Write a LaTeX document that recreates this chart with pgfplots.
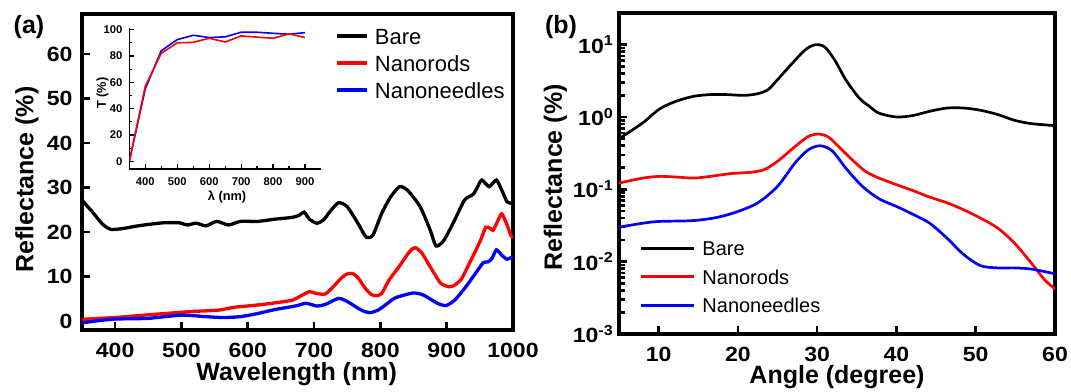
\documentclass[border=0pt]{standalone}
\usepackage{fontspec}
\setmainfont{Liberation Sans}
\usepackage{graphicx}
\usepackage{pgfplots}
\pgfplotsset{compat=1.18}
\newcommand{\tlab}[1]{\scalebox{1.12}[1]{#1}}
\definecolor{cred}{RGB}{255,0,0}
\definecolor{cblue}{RGB}{0,0,255}
\pgfplotsset{
  base/.style={
    scale only axis,
    axis line style={line width=1.6pt},
    xtick pos=lower, ytick pos=left, tick align=inside,
    major tick length=3.8pt,
    tick style={black, line width=1.3pt},
    /pgf/number format/assume math mode=true,
    /pgf/number format/1000 sep={},
    tick label style={font=\fontsize{10.3}{12}\selectfont\bfseries},
    xticklabel style={yshift=-2.8pt},
    every axis plot/.append style={line width=1.65pt},
  },
}
\begin{document}
\begin{tikzpicture}
\useasboundingbox (0pt,0pt) rectangle (535.5pt,195.5pt);
% ---------- panel (a)
\begin{axis}[base,
  at={(41pt,30.5pt)}, anchor=south west, width=215.5pt, height=158pt,
  xmin=350, xmax=1000, ymin=-2, ymax=69,
  xtick={400,500,...,1000}, ytick={0,10,...,60},
  xticklabel={\tlab{\pgfmathprintnumber{\tick}}},
  yticklabel={\tlab{\pgfmathprintnumber{\tick}}},
  yticklabel style={xshift=-1.2pt},
  xlabel={Wavelength (nm)}, ylabel={Reflectance (\%)},
  every axis x label/.style={at={(axis description cs:0.498,-0.14)}, anchor=center, font=\fontsize{12.5}{15}\selectfont\bfseries},
  every axis y label/.style={at={(axis description cs:-0.128,0.476)}, rotate=90, anchor=center, font=\fontsize{12.5}{15}\selectfont\bfseries},
  legend style={at={(0.587,0.844)}, anchor=west, draw=none, fill=none, inner sep=0pt,
    font=\fontsize{11}{13}\selectfont, row sep=0pt,
    nodes={inner sep=2.75pt, text height=8pt, text depth=0pt}},
  legend cell align=left,
  legend image code/.code={\draw[#1, line width=2pt] (0pt,0pt) -- (15pt,0pt);},
]
\addplot[black, smooth, tension=0.4] coordinates {
(350,27.2)(358,25.8)(366,24.5)(375,22.8)(383,21.5)(394,20.6)(412,20.8)(430,21.3)(444,21.6)(460,21.9)(475,22.1)(496,22.1)(509,21.6)(522,22.0)(537,21.4)(553,22.4)(571,21.6)(589,22.4)(615,22.4)(641,22.9)(667,23.3)(678,23.8)(685,24.5)(693,22.9)(704,22.0)(714,22.7)(725,24.8)(737,26.6)(750,25.7)(766,22.0)(779,18.8)(789,19.4)(802,24.2)(815,27.8)(829,30.2)(841,29.4)(860,25.7)(875,20.5)(884,16.9)(896,18.2)(912,22.7)(927,27.2)(940,28.5)(946,30.0)(953,31.7)(964,30.2)(975,31.7)(984,29.1)(991,26.8)(997,26.5)(1000,26.6)
};
\addlegendentry{Bare}
\addplot[cred, smooth, tension=0.4] coordinates {
(350,0.4)(375,0.6)(399,0.8)(425,1.1)(449,1.4)(475,1.7)(501,2.0)(520,2.2)(537,2.3)(558,2.5)(579,3.1)(600,3.4)(620,3.7)(641,4.1)(667,4.7)(683,5.9)(693,6.6)(704,6.2)(717,6.1)(730,7.9)(742,9.8)(750,10.6)(758,10.7)(766,9.8)(776,7.6)(786,6.0)(794,5.7)(802,6.2)(813,9.2)(828,12.2)(844,15.6)(852,16.5)(862,15.4)(878,11.5)(891,8.5)(904,7.7)(912,8.1)(922,9.4)(932,12.3)(943,15.6)(952,18.5)(959,21.1)(966,20.8)(970,20.4)(977,22.5)(983,24.1)(990,22.0)(997,19.2)(1000,18.8)
};
\addlegendentry{Nanorods}
\addplot[cblue, smooth, tension=0.4] coordinates {
(350,-0.4)(375,0.1)(399,0.45)(430,0.55)(449,0.6)(475,1.0)(501,1.35)(520,1.2)(537,1.0)(563,0.8)(589,1.0)(615,1.7)(641,2.6)(672,3.4)(688,4.0)(704,3.4)(717,3.75)(737,5.1)(750,4.4)(771,2.5)(784,1.9)(797,2.5)(810,3.9)(823,5.25)(849,6.3)(865,5.85)(886,4.0)(899,3.5)(912,4.7)(927,7.35)(940,10.0)(955,13.1)(962,13.3)(968,14.0)(975,16.0)(983,14.8)(991,13.9)(997,14.3)(1000,14.3)
};
\addlegendentry{Nanoneedles}
\end{axis}
% ---------- inset
\begin{axis}[
  at={(64.65pt,110.85pt)}, anchor=south west, width=95.85pt, height=70.5pt,
  scale only axis,
  axis x line=bottom, axis y line=left,
  axis line style={-, line width=0.8pt},
  every outer x axis line/.append style={-},
  every outer y axis line/.append style={-},
  xmin=350, xmax=950, ymin=-6, ymax=101,
  xtick={400,500,...,900}, ytick={0,20,...,100},
  minor x tick num=1, minor y tick num=1,
  tick align=inside, major tick length=2.5pt, minor tick length=1.5pt,
  tick style={black, line width=0.6pt},
  /pgf/number format/assume math mode=true,
  tick label style={font=\fontsize{5.6}{6}\selectfont\bfseries},
  xticklabel style={yshift=-0.6pt},
  xlabel={λ (nm)}, ylabel={T (\%)},
  every axis x label/.style={at={(axis description cs:0.51,-0.2)}, anchor=center, font=\fontsize{6.4}{8}\selectfont\bfseries},
  every axis y label/.style={at={(axis description cs:-0.14,0.54)}, rotate=90, anchor=center, font=\fontsize{6.4}{8}\selectfont\bfseries},
  every axis plot/.append style={line width=0.8pt},
]
\addplot[cblue] coordinates {(350,0)(400,55)(450,84)(500,92.4)(550,95.7)(600,94)(650,94.5)(700,98)(750,98)(800,97.2)(850,96.5)(900,97.7)};
\addplot[cred] coordinates {(350,0)(400,57)(450,82)(500,90)(550,90.3)(600,93.5)(650,90.6)(700,95.2)(750,94.3)(800,93.4)(850,96.8)(900,94)};
\end{axis}
\node[font=\fontsize{12.5}{15}\selectfont\bfseries] at (14.5pt,182pt) {(a)};
% ---------- panel (b)
\begin{axis}[base,
  at={(309.5pt,28.5pt)}, anchor=south west, width=218pt, height=160.5pt,
  ymode=log,
  xmin=5, xmax=60, ymin=0.001, ymax=27.4,
  xtick={10,20,...,60},
  xticklabel={\tlab{\pgfmathprintnumber{\tick}}},
  ytick={0.001,0.01,0.1,1,10},
  yticklabels={\tlab{10\textsuperscript{-3}},\tlab{10\textsuperscript{-2}},\tlab{10\textsuperscript{-1}},\tlab{10\textsuperscript{0}},\tlab{10\textsuperscript{1}}},
  yticklabel style={xshift=1pt},
  every axis plot/.append style={line width=1.35pt},
  xlabel={Angle (degree)}, ylabel={Reflectance (\%)},
  every axis x label/.style={at={(axis description cs:0.5,-0.135)}, anchor=center, font=\fontsize{12.5}{15}\selectfont\bfseries},
  every axis y label/.style={at={(axis description cs:-0.146,0.488)}, rotate=90, anchor=center, font=\fontsize{12.5}{15}\selectfont\bfseries},
  legend style={at={(0.047,0.1785)}, anchor=west, draw=none, fill=none, inner sep=0pt,
    font=\fontsize{10}{12}\selectfont, row sep=0pt,
    nodes={inner sep=3.375pt, text height=7.5pt, text depth=0pt}},
  legend cell align=left,
  legend image code/.code={\draw[#1, line width=1.4pt] (0pt,0pt) -- (26.5pt,0pt);},
]
\addplot[black, smooth] coordinates {
(5,0.50)(8,0.83)(10.1,1.29)(12.2,1.65)(14.4,1.93)(16.5,2.04)(18.6,2.04)(20.8,1.99)(22.5,2.1)(23.8,2.39)(25,3.28)(26.7,5.3)(28.5,8.5)(29.8,10)(31,9.2)(32.3,5.9)(33.6,3.28)(35.3,1.83)(36.6,1.4)(37.8,1.13)(40,1.0)(42.1,1.05)(44.2,1.2)(46.4,1.33)(48.5,1.33)(50.6,1.24)(52.8,1.08)(54.9,0.9)(57,0.81)(60,0.76)
};
\addlegendentry{Bare}
\addplot[cred, smooth] coordinates {
(5,0.122)(8,0.143)(10.1,0.151)(12.2,0.148)(14.4,0.143)(16.5,0.151)(19.1,0.165)(21.6,0.172)(23.3,0.187)(25,0.244)(27.2,0.39)(28.9,0.54)(30.2,0.58)(31.4,0.53)(32.7,0.39)(34.4,0.257)(36.1,0.177)(37.8,0.143)(40,0.116)(42.1,0.096)(44.2,0.078)(46.4,0.065)(48.5,0.052)(50.6,0.040)(52.8,0.029)(54.9,0.018)(57,0.0096)(58.7,0.0056)(60,0.0042)
};
\addlegendentry{Nanorods}
\addplot[cblue, smooth] coordinates {
(5,0.030)(8,0.034)(10.1,0.036)(14.4,0.037)(17.4,0.041)(19.9,0.049)(22.5,0.065)(25,0.11)(27.2,0.231)(28.9,0.353)(30.4,0.40)(31.9,0.34)(33.6,0.197)(35.7,0.11)(37.8,0.074)(40,0.058)(42.1,0.045)(44.2,0.034)(46.4,0.021)(48.5,0.0125)(50.6,0.0088)(52.8,0.0082)(54.9,0.0082)(57,0.0079)(60,0.0068)
};
\addlegendentry{Nanoneedles}
\end{axis}
\node[font=\fontsize{12.5}{15}\selectfont\bfseries] at (280.5pt,182pt) {(b)};
\end{tikzpicture}
\end{document}
